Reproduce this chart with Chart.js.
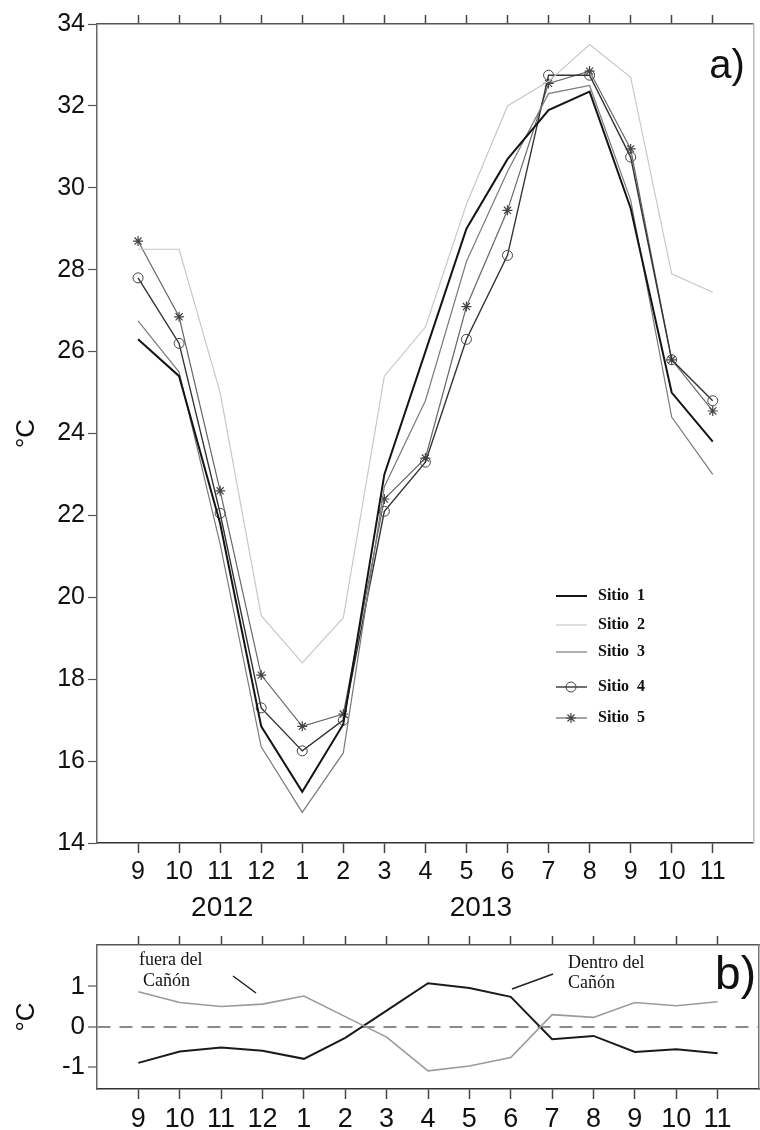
<!DOCTYPE html>
<html>
<head>
<meta charset="utf-8">
<script src="https://cdn.jsdelivr.net/npm/chart.js@4.4.0/dist/chart.umd.min.js"></script>
<style>
  body { margin: 0; background: #fff; }
  #wrap { position: relative; width: 760px; height: 1130px; }
  canvas { position: absolute; left: 0; }
  #top-chart { top: 0; }
  #bottom-chart { top: 925px; }
</style>
</head>
<body>
<div id="wrap">
  <canvas id="top-chart" width="760" height="925"></canvas>
  <canvas id="bottom-chart" width="760" height="205"></canvas>
</div>
<script>
// month labels, sep 2012 .. nov 2013
const months = ['9','10','11','12','1','2','3','4','5','6','7','8','9','10','11'];

// a) monthly mean temperature per site (°C)
const sitio1 = [26.3, 25.4, 21.8, 16.85, 15.25, 16.9, 23.0, 26.0, 29.0, 30.7, 31.9, 32.35, 29.5, 25.0, 23.8];
const sitio2 = [28.5, 28.5, 25.0, 19.55, 18.4, 19.5, 25.4, 26.6, 29.6, 32.0, 32.6, 33.5, 32.7, 27.9, 27.45];
const sitio3 = [26.75, 25.5, 21.3, 16.35, 14.75, 16.2, 22.7, 24.8, 28.2, 30.4, 32.3, 32.5, 29.7, 24.4, 23.0];
const sitio4 = [27.8, 26.2, 22.05, 17.3, 16.25, 17.0, 22.1, 23.3, 26.3, 28.35, 32.75, 32.75, 30.75, 25.8, 24.8];
const sitio5 = [28.7, 26.85, 22.6, 18.1, 16.85, 17.15, 22.4, 23.4, 27.1, 29.45, 32.55, 32.85, 30.95, 25.8, 24.55];

// b) anomalies, outside vs inside the canyon (°C)
const fuera  = [0.87, 0.6, 0.5, 0.56, 0.76, 0.25, -0.26, -1.1, -0.98, -0.77, 0.3, 0.23, 0.6, 0.52, 0.62];
const dentro = [-0.9, -0.62, -0.52, -0.6, -0.8, -0.28, 0.4, 1.08, 0.96, 0.74, -0.31, -0.23, -0.63, -0.56, -0.66];

const yTicksTop = [14, 16, 18, 20, 22, 24, 26, 28, 30, 32, 34];
const yTicksBottom = [-1, 0, 1];

const sans = 'Liberation Sans';
const serif = 'Liberation Serif';

function points(values) {
    return values.map((v, i) => ({x: i, y: v}));
}

function monthTicks(scale) {
    scale.ticks = months.map((m, i) => ({value: i}));
}

function monthAxis(fontSize, height) {
    return {
        type: 'linear', position: 'bottom', min: -1, max: 15,
        afterBuildTicks: monthTicks,
        afterFit: s => { s.height = height; },
        ticks: {
            color: '#111', padding: 4,
            font: {family: sans, size: fontSize},
            callback: (v, i) => months[i]
        },
        grid: {drawOnChartArea: false, tickLength: 10, tickColor: '#444', tickWidth: 1.5},
        border: {color: '#333', width: 1.5}
    };
}

function topFrame() {
    return {
        type: 'linear', position: 'top', min: -1, max: 15,
        afterBuildTicks: monthTicks,
        afterFit: s => { s.height = 0; },
        ticks: {display: false},
        grid: {drawOnChartArea: false, tickLength: 9, tickColor: '#444', tickWidth: 1.5},
        border: {color: '#555', width: 1.5}
    };
}

function rightFrame(min, max, color) {
    return {
        position: 'right', min: min, max: max,
        afterFit: s => { s.width = 0; },
        ticks: {display: false},
        grid: {drawOnChartArea: false, drawTicks: false},
        border: {color: color, width: 1.5}
    };
}

const topLabels = {
    id: 'topLabels',
    afterDraw(chart) {
        const ctx = chart.ctx;
        const xs = chart.scales.x;
        const area = chart.chartArea;
        ctx.save();
        ctx.fillStyle = '#111';
        ctx.textAlign = 'center';
        ctx.textBaseline = 'middle';
        ctx.font = '28px "' + sans + '"';
        ctx.fillText('2012', xs.getPixelForValue(2.05), area.bottom + 65);
        ctx.fillText('2013', xs.getPixelForValue(8.35), area.bottom + 65);

        ctx.font = '40px "' + sans + '"';
        ctx.textAlign = 'right';
        ctx.fillText('a)', area.right - 9, area.top + 43);

        // legend
        ctx.font = 'bold 16px "' + serif + '"';
        ctx.textAlign = 'left';
        const rows = [596, 625, 652, 687, 718];
        chart.data.datasets.forEach((ds, i) => {
            const y = rows[i];
            ctx.strokeStyle = ds.borderColor;
            ctx.lineWidth = ds.borderWidth;
            ctx.beginPath();
            ctx.moveTo(556, y);
            ctx.lineTo(587, y);
            ctx.stroke();
            if (ds.pointRadius > 0) {
                ctx.fillStyle = ds.pointBackgroundColor;
                ctx.strokeStyle = ds.pointBorderColor;
                ctx.lineWidth = ds.pointBorderWidth;
                Chart.helpers.drawPoint(ctx, {pointStyle: ds.pointStyle, radius: ds.pointRadius, borderWidth: ds.pointBorderWidth, rotation: 0}, 571, y);
            }
            ctx.fillStyle = '#111';
            ctx.fillText(ds.label, 598, y);
        });
        ctx.restore();
    }
};

const bottomLabels = {
    id: 'bottomLabels',
    afterDraw(chart) {
        const ctx = chart.ctx;
        const area = chart.chartArea;
        ctx.save();
        ctx.fillStyle = '#111';
        ctx.textBaseline = 'middle';
        ctx.textAlign = 'left';
        ctx.font = '18px "' + serif + '"';
        ctx.fillText('fuera del', 139, 35);
        ctx.fillText('Cañón', 143, 56);
        ctx.fillText('Dentro del', 568, 38);
        ctx.fillText('Cañón', 568, 58);

        ctx.strokeStyle = '#222';
        ctx.lineWidth = 1.5;
        ctx.beginPath();
        ctx.moveTo(233, 51); ctx.lineTo(256, 68);
        ctx.moveTo(553, 49); ctx.lineTo(512, 64);
        ctx.stroke();

        ctx.font = '46px "' + sans + '"';
        ctx.textAlign = 'right';
        ctx.fillText('b)', area.right - 3, area.top + 31);
        ctx.restore();
    }
};

new Chart(document.querySelector('#top-chart').getContext('2d'), {
    type: 'line',
    data: {
        datasets: [
            {label: 'Sitio  1', data: points(sitio1), borderColor: '#151515', borderWidth: 2, pointRadius: 0},
            {label: 'Sitio  2', data: points(sitio2), borderColor: '#c8c8c8', borderWidth: 1.2, pointRadius: 0},
            {label: 'Sitio  3', data: points(sitio3), borderColor: '#7a7a7a', borderWidth: 1.2, pointRadius: 0},
            {label: 'Sitio  4', data: points(sitio4), borderColor: '#333', borderWidth: 1.4,
                pointStyle: 'circle', pointRadius: 5, pointBackgroundColor: 'rgba(255,255,255,0)', pointBorderColor: '#444', pointBorderWidth: 1},
            {label: 'Sitio  5', data: points(sitio5), borderColor: '#666', borderWidth: 1.2,
                pointStyle: 'star', pointRadius: 5, pointBackgroundColor: '#444', pointBorderColor: '#444', pointBorderWidth: 1.2}
        ]
    },
    options: {
        responsive: false,
        animation: false,
        layout: {padding: {top: 24, right: 3, left: 0, bottom: 0}},
        plugins: {legend: {display: false}, tooltip: {enabled: false}},
        scales: {
            x: monthAxis(25, 82),
            x2: topFrame(),
            y: {
                min: 14, max: 34,
                afterBuildTicks: s => { s.ticks = yTicksTop.map(v => ({value: v})); },
                afterFit: s => { s.width = 97; },
                ticks: {color: '#111', padding: 3, font: {family: sans, size: 25}},
                grid: {drawOnChartArea: false, tickLength: 9, tickColor: '#555', tickWidth: 1.2},
                border: {color: '#666', width: 1.5},
                title: {display: true, text: '°C', color: '#111', font: {family: sans, size: 26}, padding: {top: 11}}
            },
            y2: rightFrame(14, 34, '#bbb')
        }
    },
    plugins: [topLabels]
});

new Chart(document.querySelector('#bottom-chart').getContext('2d'), {
    type: 'line',
    data: {
        datasets: [
            {label: 'fuera del Cañón', data: points(fuera), borderColor: '#9a9a9a', borderWidth: 1.6, pointRadius: 0},
            {label: 'Dentro del Cañón', data: points(dentro), borderColor: '#1a1a1a', borderWidth: 2, pointRadius: 0}
        ]
    },
    options: {
        responsive: false,
        animation: false,
        layout: {padding: {top: 20, right: 1, left: 0, bottom: 0}},
        plugins: {legend: {display: false}, tooltip: {enabled: false}},
        scales: {
            x: monthAxis(27, 41),
            x2: topFrame(),
            y: {
                min: -1.55, max: 2.03,
                afterBuildTicks: s => { s.ticks = yTicksBottom.map(v => ({value: v})); },
                afterFit: s => { s.width = 97; },
                ticks: {color: '#111', padding: 3, font: {family: sans, size: 26}},
                grid: {
                    drawOnChartArea: true, tickLength: 9, tickColor: '#555', tickWidth: 1.2,
                    lineWidth: 2,
                    color: c => (c.tick && c.tick.value === 0) ? '#8a8a8a' : 'rgba(0,0,0,0)'
                },
                border: {color: '#666', width: 1.5, dash: [13, 9]},
                title: {display: true, text: '°C', color: '#111', font: {family: sans, size: 26}, padding: {top: 11}}
            },
            y2: rightFrame(-1.55, 2.03, '#777')
        }
    },
    plugins: [bottomLabels]
});
</script>
</body>
</html>
